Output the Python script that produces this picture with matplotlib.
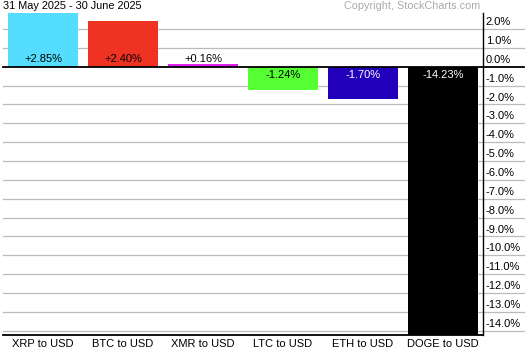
import matplotlib
matplotlib.use("Agg")
import matplotlib.pyplot as plt

plt.rcParams['font.family'] = ['Liberation Sans', 'DejaVu Sans']

# data
symbols = ["XRP to USD", "BTC to USD", "XMR to USD", "LTC to USD", "ETH to USD", "DOGE to USD"]
changes = [2.85, 2.40, 0.16, -1.24, -1.70, -14.23]
bar_colors = ["#55DDFF", "#EE3322", "#DD22EE", "#55FF33", "#2200BB", "#000000"]
text_colors = ["black", "black", "black", "black", "white", "white"]
yticks = list(range(2, -15, -1))

fig = plt.figure(figsize=(5.30, 3.55), dpi=100)
ax = fig.add_axes([3 / 530, 1 - 335 / 355, 480 / 530, 322 / 355])

xs = range(len(symbols))
ax.bar(xs, changes, width=0.875, color=bar_colors, zorder=2)

# grid lines run out under the right-hand labels
for t in yticks:
    if t == 0:
        ax.axhline(0, xmin=0, xmax=1.085, color="black", lw=1.3, clip_on=False, zorder=3)
    else:
        ax.axhline(t, xmin=0, xmax=1.085, color="#BBBBBB", lw=0.9, clip_on=False, zorder=1)
    ax.text(1.006, t + 0.1, f"{t:.1f}%", transform=ax.get_yaxis_transform(),
            ha="left", va="bottom", fontsize=8, clip_on=False)

for x, v, tc in zip(xs, changes, text_colors):
    if v >= 0:
        ax.text(x, 0.12, f"+{v:.2f}%", ha="center", va="bottom", fontsize=8, color=tc, zorder=4)
    else:
        ax.text(x, -0.2, f"{v:.2f}%", ha="center", va="top", fontsize=8, color=tc, zorder=4)

ax.set_xlim(-0.5, len(symbols) - 0.5)
ax.set_ylim(min(changes), max(changes))
ax.set_yticks([])
ax.set_xticks(list(xs))
ax.set_xticklabels(symbols, fontsize=8)
ax.tick_params(axis="x", length=0, pad=3)

for s in ["top", "left"]:
    ax.spines[s].set_visible(False)
ax.spines["right"].set_color("black")
ax.spines["bottom"].set_color("black")
ax.spines["bottom"].set_linewidth(1.3)
ax.spines["right"].set_linewidth(1.0)

fig.text(3 / 530, 1 - 6 / 355, "31 May 2025 - 30 June 2025", ha="left", va="center", fontsize=7.8)
fig.text(480 / 530, 1 - 6 / 355, "Copyright, StockCharts.com", ha="right", va="center",
         fontsize=7.8, color="#AAAAAA")

fig.savefig("out.png", dpi=100)
